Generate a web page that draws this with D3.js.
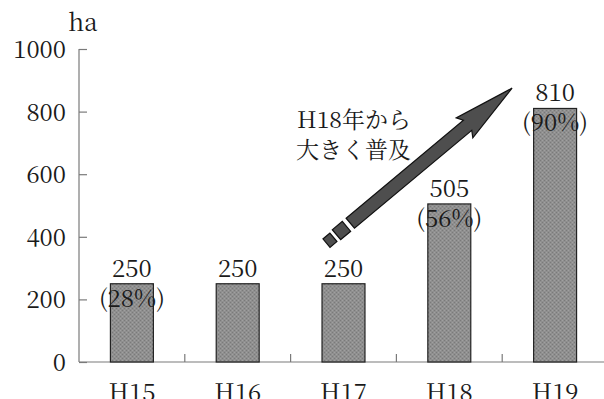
<!DOCTYPE html>
<html>
<head>
<meta charset="utf-8">
<script src="https://cdn.jsdelivr.net/npm/d3@7/dist/d3.min.js"></script>
<style>
  html, body { margin: 0; padding: 0; background: #fff; }
  svg { display: block; }
  svg text { font-family: "Noto Serif CJK JP", "Liberation Serif", serif; fill: #1a1a1a; }
</style>
</head>
<body>
<svg id="chart" width="604" height="399"></svg>
<script>
// Adopted area (ha) by fiscal year, with share in parentheses
const years = ["H15", "H16", "H17", "H18", "H19"];
const areas = [250, 250, 250, 505, 810];
const shares = ["(28%)", "", "", "(56%)", "(90%)"];
const yTicks = [0, 200, 400, 600, 800, 1000];
const unitLabel = "ha";
const noteLines = ["H18年から", "大きく普及"];

const svg = d3.select("#chart");

const x = d3.scaleBand()
  .domain(years)
  .range([79, 608])
  .paddingInner(0.594)
  .paddingOuter(0.297);

const y = d3.scaleLinear().domain([0, 1000]).range([362, 49]);

const axisColor = "#7a7a7a";
const labelSize = 24;

// speckled grey fill for the bars
const defs = svg.append("defs");
const pat = defs.append("pattern")
  .attr("id", "speckle")
  .attr("patternUnits", "userSpaceOnUse")
  .attr("width", 4).attr("height", 4);
pat.append("rect").attr("width", 4).attr("height", 4).attr("fill", "#8f8f8f");
pat.append("rect").attr("x", 0).attr("y", 0).attr("width", 1).attr("height", 1).attr("fill", "#7a7a7a");
pat.append("rect").attr("x", 2).attr("y", 2).attr("width", 1).attr("height", 1).attr("fill", "#7a7a7a");
pat.append("rect").attr("x", 2).attr("y", 0).attr("width", 1).attr("height", 1).attr("fill", "#a0a0a0");
pat.append("rect").attr("x", 0).attr("y", 2).attr("width", 1).attr("height", 1).attr("fill", "#a0a0a0");

// y axis: ticks point inward
const yAxis = svg.append("g")
  .attr("transform", `translate(${x.range()[0]},0)`)
  .call(d3.axisRight(y).tickValues(yTicks).tickSize(8).tickFormat(""));
yAxis.select(".domain").remove();
yAxis.selectAll(".tick line").attr("stroke", axisColor).attr("stroke-width", 1.2);
svg.append("line")
  .attr("x1", x.range()[0]).attr("x2", x.range()[0])
  .attr("y1", y(1000)).attr("y2", y(0))
  .attr("stroke", axisColor).attr("stroke-width", 1.2);

svg.selectAll("text.ytick")
  .data(yTicks)
  .join("text")
  .attr("class", "ytick")
  .attr("x", 66)
  .attr("y", d => y(d) + 9)
  .attr("text-anchor", "end")
  .attr("font-size", labelSize)
  .text(d => d);

svg.append("text")
  .attr("x", 83).attr("y", 31)
  .attr("text-anchor", "middle")
  .attr("font-size", labelSize)
  .text(unitLabel);

// x axis baseline and separators between categories
svg.append("line")
  .attr("x1", x.range()[0]).attr("x2", 604)
  .attr("y1", y(0)).attr("y2", y(0))
  .attr("stroke", axisColor).attr("stroke-width", 1.2);

const step = x.step();
const separators = years.slice(0, -1).map(d => x(d) + x.bandwidth() / 2 + step / 2);
svg.selectAll("line.sep")
  .data(separators)
  .join("line")
  .attr("class", "sep")
  .attr("x1", d => d).attr("x2", d => d)
  .attr("y1", y(0)).attr("y2", y(0) - 8)
  .attr("stroke", axisColor).attr("stroke-width", 1.2);

svg.selectAll("text.xlab")
  .data(years)
  .join("text")
  .attr("class", "xlab")
  .attr("x", d => x(d) + x.bandwidth() / 2)
  .attr("y", 401)
  .attr("text-anchor", "middle")
  .attr("font-size", labelSize)
  .text(d => d);

const rows = years.map((d, i) => ({ year: d, v: areas[i], s: shares[i] }));

// bars
svg.selectAll("rect.bar")
  .data(rows)
  .join("rect")
  .attr("class", "bar")
  .attr("x", d => x(d.year))
  .attr("y", d => y(d.v))
  .attr("width", x.bandwidth())
  .attr("height", d => y(0) - y(d.v))
  .attr("fill", "url(#speckle)")
  .attr("stroke", "#222")
  .attr("stroke-width", 1.2);

svg.selectAll("text.val")
  .data(rows)
  .join("text")
  .attr("class", "val")
  .attr("x", d => x(d.year) + x.bandwidth() / 2)
  .attr("y", d => y(d.v) - 7)
  .attr("text-anchor", "middle")
  .attr("font-size", labelSize)
  .text(d => d.v);

svg.selectAll("text.share")
  .data(rows.filter(d => d.s))
  .join("text")
  .attr("class", "share")
  .attr("x", d => x(d.year) + x.bandwidth() / 2)
  .attr("y", d => y(d.v) + 23)
  .attr("text-anchor", "middle")
  .attr("font-size", labelSize)
  .text(d => d.s);

// growth arrow, anchored in data space between H17 and H19
const start = [x("H17") + x.bandwidth() / 2 - 17, y(380)];
const tip = [x("H19") + x.bandwidth() / 2 - 43, y(875)];
const dx = tip[0] - start[0], dy = tip[1] - start[1];
const len = Math.hypot(dx, dy);
const ang = Math.atan2(dy, dx) * 180 / Math.PI;

const arrow = svg.append("g")
  .attr("transform", `translate(${start[0]},${start[1]}) rotate(${ang})`)
  .attr("fill", "#4e4e4e")
  .attr("stroke", "#111")
  .attr("stroke-width", 1.2)
  .attr("stroke-linejoin", "miter");

arrow.append("rect").attr("x", 0).attr("y", -5.5).attr("width", 9).attr("height", 11);
arrow.append("rect").attr("x", 13).attr("y", -6.5).attr("width", 13).attr("height", 13);
const headLen = 58, shaftHalf = 6.5, headHalf = 13;
arrow.append("path").attr("d", [
  `M31,${-shaftHalf}`,
  `L${len - headLen},${-shaftHalf}`,
  `L${len - headLen - 4},${-headHalf}`,
  `L${len},0`,
  `L${len - headLen - 4},${headHalf}`,
  `L${len - headLen},${shaftHalf}`,
  `L31,${shaftHalf}`,
  "Z"
].join(" "));

svg.selectAll("text.note")
  .data(noteLines)
  .join("text")
  .attr("class", "note")
  .attr("x", 411)
  .attr("y", (d, i) => 128 + i * 30)
  .attr("text-anchor", "end")
  .attr("font-size", 23)
  .text(d => d);
</script>
</body>
</html>
